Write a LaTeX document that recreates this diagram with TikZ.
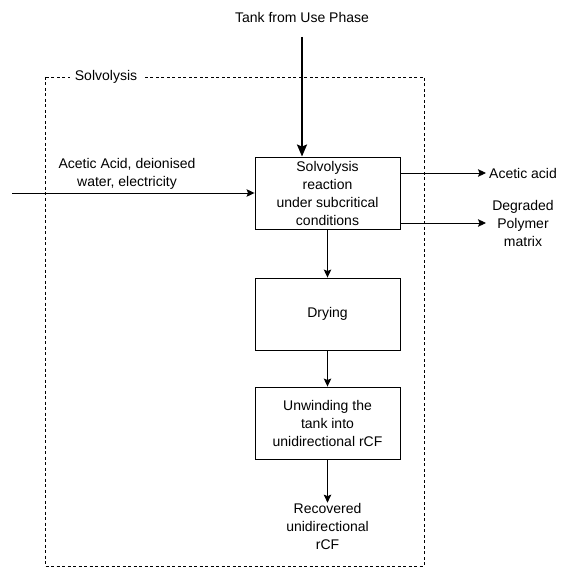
\documentclass[tikz,border=0pt]{standalone}
\usepackage{fontspec}
\setmainfont{Liberation Sans}
\usetikzlibrary{arrows.meta}
\begin{document}
\begin{tikzpicture}[x=1pt,y=-1pt,
  every node/.style={font=\fontsize{14}{18}\selectfont, text=black, align=center, inner sep=0pt},
  procbox/.style={draw, line width=0.9pt, minimum width=145pt, minimum height=72pt},
  flow/.style={line width=0.9pt, -{Stealth[length=8pt,width=7.5pt,inset=1.5pt]}},
  mainflow/.style={line width=2pt, -{Stealth[length=12pt,width=10pt,inset=2pt]}},
  boundary/.style={draw, line width=0.8pt, dash pattern=on 3pt off 2.5pt}]
\useasboundingbox (0,0) rectangle (567,569);

% system boundary with its title
\draw[boundary] (45,77) rectangle (424,566);
\node[fill=white, inner xsep=5pt, inner ysep=2pt] (title) at (106,77) {Solvolysis};

% process steps
\node[procbox] (react) at (327.5,193) {Solvolysis\\reaction\\under subcritical\\conditions};
\node[procbox] (dry) at (327.5,314) {Drying};
\node[procbox] (unwind) at (327.5,423) {Unwinding the\\tank into\\unidirectional rCF};

% incoming tank
\node (tank) at (302,17) {Tank from Use Phase};
\coordinate (tanktop) at (302,37);
\draw[mainflow] (tanktop) -- (tanktop |- react.north);

% inputs
\coordinate (instart) at (12,193);
\node (inputs) at (127,174) {Acetic Acid, deionised\\water, electricity};
\draw[flow] (instart) -- (react.west);

% outputs
\coordinate (outA0) at (400,173);
\coordinate (outA1) at (486,173);
\coordinate (outB0) at (400,223);
\coordinate (outB1) at (486,223);
\node[anchor=west] (acid) at (489,173) {Acetic acid};
\node (polymer) at (523,223) {Degraded\\Polymer\\matrix};
\draw[flow] (outA0) -- (outA1);
\draw[flow] (outB0) -- (outB1);

% main chain
\draw[flow] (react.south) -- (dry.north);
\draw[flow] (dry.south) -- (unwind.north);
\node (recovered) at (327.5,526) {Recovered\\unidirectional\\rCF};
\draw[flow] (unwind.south) -- (recovered.north);
\end{tikzpicture}
\end{document}
